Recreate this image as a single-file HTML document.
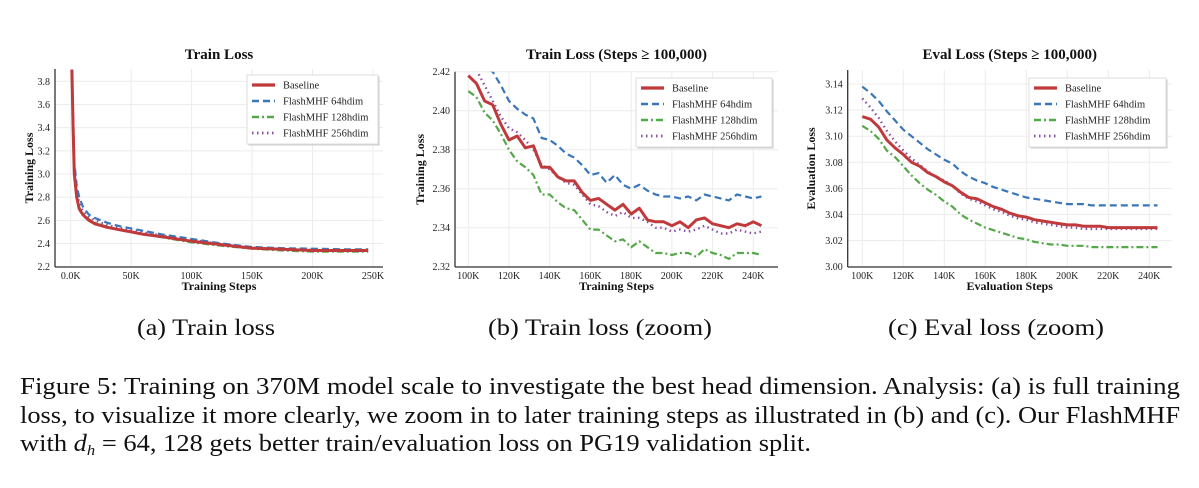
<!DOCTYPE html>
<html><head><meta charset="utf-8">
<style>
body{margin:0;background:#fff;width:1199px;height:488px;overflow:hidden;font-family:"Liberation Serif",serif;}
svg text{font-family:"Liberation Serif",serif;}
</style></head><body>
<svg id="fig" width="1199" height="300" style="position:absolute;left:0;top:0"></svg>
<svg width="1199" height="188" style="position:absolute;left:0;top:300px">
<text x="137" y="35" font-size="23" fill="#111" textLength="138" lengthAdjust="spacingAndGlyphs">(a) Train loss</text>
<text x="488" y="35" font-size="23" fill="#111" textLength="224" lengthAdjust="spacingAndGlyphs">(b) Train loss (zoom)</text>
<text x="888" y="35" font-size="23" fill="#111" textLength="216" lengthAdjust="spacingAndGlyphs">(c) Eval loss (zoom)</text>
<text x="20" y="94" font-size="24" fill="#111" textLength="1160" lengthAdjust="spacingAndGlyphs">Figure 5: Training on 370M model scale to investigate the best head dimension. Analysis: (a) is full training</text>
<text x="20" y="123" font-size="24" fill="#111" textLength="1160" lengthAdjust="spacingAndGlyphs">loss, to visualize it more clearly, we zoom in to later training steps as illustrated in (b) and (c). Our FlashMHF</text>
<text x="20" y="151" font-size="24" fill="#111" textLength="791" lengthAdjust="spacingAndGlyphs">with <tspan font-style="italic">d</tspan><tspan font-style="italic" font-size="15" dy="4">h</tspan><tspan dy="-4"> = 64, 128 gets better train/evaluation loss on PG19 validation split.</tspan></text>
</svg>
<script>
const seriesNames=["Baseline","FlashMHF 64hdim","FlashMHF 128hdim","FlashMHF 256hdim"];
// Chart A
const stepsA=[1,2,3,5,7,10,15,20,30,40,50,60,75,100,125,150,175,200,225,246];
const baseA=[3.9,3.4,3.0,2.8,2.7,2.65,2.6,2.57,2.54,2.52,2.50,2.48,2.46,2.42,2.39,2.36,2.35,2.34,2.34,2.34];
const f64A=[3.9,3.5,3.1,2.9,2.8,2.72,2.65,2.62,2.58,2.55,2.53,2.51,2.48,2.44,2.40,2.37,2.36,2.355,2.35,2.35];
const f128A=[3.9,3.42,3.02,2.82,2.71,2.66,2.61,2.58,2.545,2.52,2.50,2.48,2.455,2.41,2.38,2.355,2.34,2.33,2.33,2.33];
const f256A=[3.9,3.45,3.05,2.85,2.75,2.68,2.63,2.6,2.56,2.535,2.515,2.495,2.47,2.43,2.395,2.365,2.35,2.345,2.34,2.34];
const yTicksA=[2.2,2.4,2.6,2.8,3.0,3.2,3.4,3.6,3.8];
const xTicksA=[0,50,100,150,200,250];
// Chart B
const stepsB=[100,104,108,112,116,120,124,128,132,136,140,144,148,152,156,160,164,168,172,176,180,184,188,192,196,200,204,208,212,216,220,224,228,232,236,240,244];
const baseB=[2.418,2.414,2.405,2.403,2.393,2.385,2.387,2.381,2.382,2.371,2.371,2.366,2.364,2.364,2.358,2.354,2.355,2.352,2.349,2.352,2.347,2.350,2.344,2.343,2.343,2.341,2.343,2.340,2.344,2.345,2.342,2.341,2.340,2.342,2.341,2.343,2.341];
const f64B=[2.425,2.423,2.422,2.420,2.413,2.405,2.401,2.398,2.396,2.386,2.385,2.382,2.378,2.376,2.372,2.367,2.368,2.363,2.367,2.362,2.360,2.362,2.359,2.357,2.356,2.356,2.355,2.356,2.354,2.357,2.356,2.355,2.354,2.357,2.356,2.355,2.356];
const f128B=[2.410,2.407,2.399,2.395,2.388,2.380,2.374,2.371,2.367,2.357,2.357,2.353,2.350,2.349,2.344,2.339,2.339,2.336,2.333,2.334,2.330,2.333,2.330,2.327,2.327,2.326,2.327,2.327,2.325,2.329,2.327,2.326,2.324,2.327,2.327,2.327,2.326];
const f256B=[2.424,2.421,2.413,2.405,2.397,2.391,2.389,2.385,2.380,2.372,2.370,2.366,2.363,2.362,2.357,2.352,2.351,2.348,2.346,2.348,2.345,2.345,2.343,2.340,2.340,2.338,2.339,2.338,2.339,2.341,2.339,2.337,2.337,2.339,2.338,2.337,2.338];
const yTicksB=[2.32,2.34,2.36,2.38,2.40,2.42];
const xTicksB=[100,120,140,160,180,200,220,240];
// Chart C
const stepsC=stepsB;
const baseC=[3.115,3.113,3.107,3.097,3.091,3.086,3.080,3.077,3.072,3.069,3.065,3.062,3.057,3.053,3.052,3.049,3.046,3.044,3.041,3.039,3.038,3.036,3.035,3.034,3.033,3.032,3.032,3.031,3.031,3.031,3.030,3.030,3.030,3.030,3.030,3.030,3.030];
const f64C=[3.138,3.133,3.127,3.119,3.112,3.105,3.100,3.095,3.090,3.086,3.082,3.079,3.073,3.069,3.066,3.064,3.061,3.059,3.057,3.055,3.053,3.052,3.051,3.050,3.049,3.048,3.048,3.048,3.047,3.047,3.047,3.047,3.047,3.047,3.047,3.047,3.047];
const f128C=[3.108,3.104,3.098,3.089,3.084,3.077,3.070,3.064,3.059,3.055,3.050,3.046,3.040,3.036,3.033,3.030,3.028,3.026,3.024,3.022,3.021,3.019,3.018,3.017,3.017,3.016,3.016,3.016,3.015,3.015,3.015,3.015,3.015,3.015,3.015,3.015,3.015];
const f256C=[3.129,3.122,3.114,3.104,3.096,3.089,3.083,3.078,3.073,3.069,3.066,3.062,3.056,3.052,3.050,3.047,3.044,3.042,3.039,3.037,3.036,3.034,3.033,3.032,3.031,3.030,3.030,3.029,3.029,3.029,3.029,3.029,3.029,3.029,3.029,3.029,3.029];
const yTicksC=[3.00,3.02,3.04,3.06,3.08,3.10,3.12,3.14];
const xTicksC=xTicksB;

const NS="http://www.w3.org/2000/svg";
const svg=document.getElementById("fig");
const colors=["#c0393b","#3a76b8","#55a84a","#8c4fa3"];
const widths=[3,2.2,2.2,2.4];
const dashes=["","7,4","7,3,2,3","1.5,3.5"];
function mk(tag,attrs,parent){const e=document.createElementNS(NS,tag);for(const k in attrs)e.setAttribute(k,attrs[k]);(parent||svg).appendChild(e);return e;}

function chart(cfg){
  const g=mk("g",{});
  
  
  const X=v=>cfg.x0+(v-cfg.xa)/(cfg.xb-cfg.xa)*(cfg.x1-cfg.x0);
  const Y=v=>cfg.y0+(v-cfg.ya)/(cfg.yb-cfg.ya)*(cfg.y1-cfg.y0);
  cfg.yTicks.forEach(t=>{
    mk("line",{x1:cfg.L,x2:cfg.R,y1:Y(t),y2:Y(t),stroke:"#ececec","stroke-width":1},g);
    const tx=mk("text",{x:cfg.L-5,y:Y(t)+3.5,"font-size":10,"text-anchor":"end",fill:"#222"},g);
    tx.textContent=cfg.yFmt(t);
    
    
  });
  cfg.xTicks.forEach(t=>{
    mk("line",{x1:X(t),x2:X(t),y1:cfg.T,y2:cfg.B,stroke:"#ececec","stroke-width":1},g);
    const tx=mk("text",{x:X(t),y:cfg.B+12,"font-size":10,"text-anchor":"middle",fill:"#222"},g);
    tx.textContent=cfg.xFmt(t);
    
    
  });
  const clipId="clip"+cfg.name;
  const cp=mk("clipPath",{id:clipId},g);
  mk("rect",{x:cfg.L,y:cfg.T,width:cfg.R-cfg.L,height:cfg.B-cfg.T},cp);
  [3,2,1,0].forEach(i=>{
    const d=cfg.steps.map((s,j)=>(j?"L":"M")+X(s).toFixed(1)+","+Y(cfg.series[i][j]).toFixed(1)).join("");
    const p=mk("path",{d:d,fill:"none",stroke:colors[i],"stroke-width":widths[i],"stroke-dasharray":dashes[i],"stroke-linejoin":"round","clip-path":"url(#"+clipId+")"},g);
    
    
  });
  mk("line",{x1:cfg.L,x2:cfg.L,y1:cfg.T,y2:cfg.B,stroke:"#333","stroke-width":1.3},g);
  mk("line",{x1:cfg.L,x2:cfg.R,y1:cfg.B,y2:cfg.B,stroke:"#333","stroke-width":1.3},g);
  const ti=mk("text",{x:(cfg.L+cfg.R)/2,y:59,"font-size":15,"font-weight":"bold","text-anchor":"middle",fill:"#111"},g);
  ti.textContent=cfg.title;
  
  
  const xt=mk("text",{x:(cfg.L+cfg.R)/2,y:cfg.B+23,"font-size":12,"font-weight":"bold","text-anchor":"middle",fill:"#111"},g);
  xt.textContent=cfg.xTitle;
  
  
  const yt=mk("text",{x:0,y:0,"font-size":12,"font-weight":"bold","text-anchor":"middle",fill:"#111",transform:`translate(${cfg.yTitleX},${(cfg.T+cfg.B)/2}) rotate(-90)`},g);
  yt.textContent=cfg.yTitle;
  
  
  const lg=mk("g",{},g);
  
  
  mk("rect",{x:cfg.lx+1.5,y:cfg.ly+1.5,width:cfg.lw,height:69,fill:"#ccc"},lg);
  mk("rect",{x:cfg.lx,y:cfg.ly,width:cfg.lw,height:69,fill:"#fff",stroke:"#ddd"},lg);
  seriesNames.forEach((n,i)=>{
    const yy=cfg.ly+10+i*16;
    mk("line",{x1:cfg.lx+5,x2:cfg.lx+28,y1:yy,y2:yy,stroke:colors[i],"stroke-width":widths[i]+0.3,"stroke-dasharray":dashes[i]},lg);
    const t=mk("text",{x:cfg.lx+36,y:yy+3.5,"font-size":10.5,fill:"#222"},lg);
    t.textContent=n;
    
    
  });
}
chart({name:"train-loss-chart",L:55,R:383,T:69,B:267,x0:70.7,x1:373,xa:0,xb:250,y0:266.7,y1:81.3,ya:2.2,yb:3.8,
  steps:stepsA,series:[baseA,f64A,f128A,f256A],yTicks:yTicksA,xTicks:xTicksA,
  yFmt:t=>t.toFixed(1),xFmt:t=>t===0?"0.0K":t+"K",title:"Train Loss",xTitle:"Training Steps",yTitle:"Training Loss",yTitleX:33,lx:247,ly:75,lw:131});
chart({name:"train-loss-zoom-chart",L:455,R:778,T:71.7,B:267,x0:468.3,x1:753.3,xa:100,xb:240,y0:266.7,y1:71.7,ya:2.32,yb:2.42,
  steps:stepsB,series:[baseB,f64B,f128B,f256B],yTicks:yTicksB,xTicks:xTicksB,
  yFmt:t=>t.toFixed(2),xFmt:t=>t+"K",title:"Train Loss (Steps \u2265 100,000)",xTitle:"Training Steps",yTitle:"Training Loss",yTitleX:424,lx:636,ly:78,lw:136});
chart({name:"eval-loss-zoom-chart",L:847.7,R:1171.7,T:70,B:267,x0:862.3,x1:1149.3,xa:100,xb:240,y0:266.7,y1:84,ya:3.00,yb:3.14,
  steps:stepsC,series:[baseC,f64C,f128C,f256C],yTicks:yTicksC,xTicks:xTicksC,
  yFmt:t=>t.toFixed(2),xFmt:t=>t+"K",title:"Eval Loss (Steps \u2265 100,000)",xTitle:"Evaluation Steps",yTitle:"Evaluation Loss",yTitleX:815,lx:1029,ly:78,lw:137});
</script>
</body></html>
